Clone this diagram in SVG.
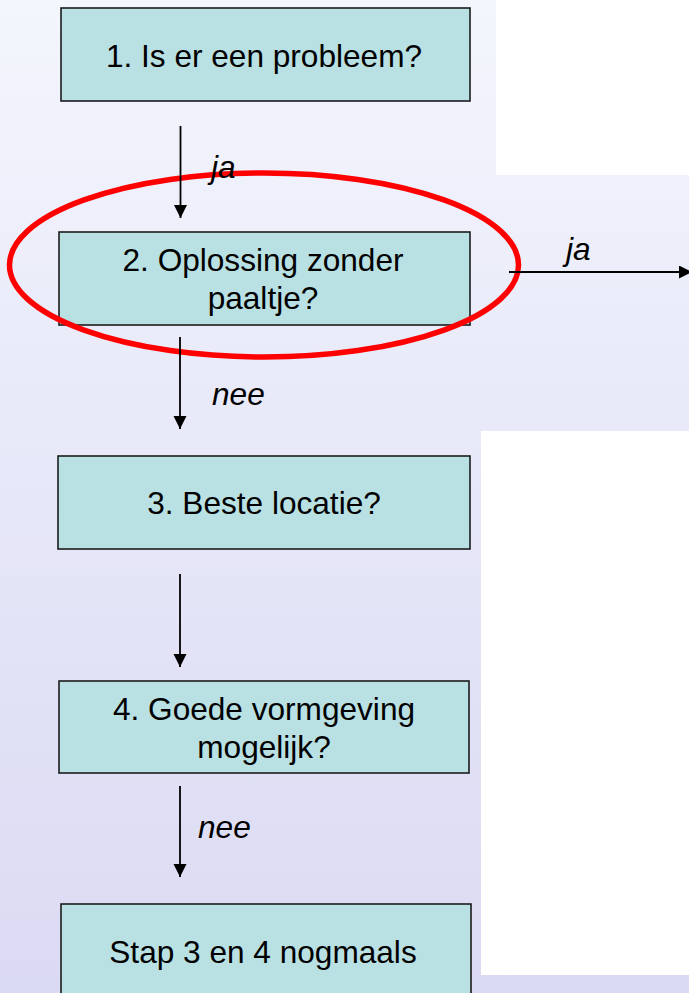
<svg xmlns="http://www.w3.org/2000/svg" width="689" height="993" viewBox="0 0 689 993">
  <defs>
    <linearGradient id="bg" x1="0" y1="0" x2="0" y2="1">
      <stop offset="0" stop-color="#f4f6fd"/>
      <stop offset="0.5" stop-color="#e6e7f8"/>
      <stop offset="1" stop-color="#dbdaf3"/>
    </linearGradient>
    <marker id="arrow" markerUnits="userSpaceOnUse" markerWidth="14" markerHeight="14" refX="13" refY="6.5" orient="auto">
      <path d="M0,0 L13,6.5 L0,13 Z" fill="#000"/>
    </marker>
    <style>
      .box { fill: #b9e0e3; stroke: #1c1c1c; stroke-width: 1.6; }
      .t { font-family: "Liberation Sans", Arial, sans-serif; font-size: 31.6px; fill: #000; text-anchor: middle; }
      .lbl { font-family: "Liberation Sans", Arial, sans-serif; font-size: 31.6px; font-style: italic; fill: #000; }
      .conn { stroke: #000; stroke-width: 1.8; fill: none; marker-end: url(#arrow); }
    </style>
  </defs>

  <!-- background -->
  <rect x="0" y="0" width="689" height="993" fill="url(#bg)"/>
  <rect x="496" y="0" width="193" height="175" fill="#ffffff"/>
  <rect x="481" y="431" width="208" height="544" fill="#ffffff"/>

  <g id="node1">
    <rect class="box" x="61" y="8" width="409" height="93"/>
    <text class="t" x="264" y="66.5">1. Is er een probleem?</text>
  </g>
  <g id="node2">
    <rect class="box" x="59" y="232" width="411" height="93"/>
    <text class="t" x="263" y="271">2. Oplossing zonder</text>
    <text class="t" x="263" y="309">paaltje?</text>
  </g>
  <g id="node3">
    <rect class="box" x="58" y="456" width="412" height="93"/>
    <text class="t" x="264" y="514">3. Beste locatie?</text>
  </g>
  <g id="node4">
    <rect class="box" x="59" y="681" width="410" height="92"/>
    <text class="t" x="264" y="720">4. Goede vormgeving</text>
    <text class="t" x="264" y="758">mogelijk?</text>
  </g>
  <g id="node5">
    <rect class="box" x="61" y="904" width="410" height="100"/>
    <text class="t" x="263" y="963">Stap 3 en 4 nogmaals</text>
  </g>

  <g id="highlight">
    <ellipse cx="264" cy="265" rx="254.5" ry="92" fill="none" stroke="#ff0000" stroke-width="5.5"/>
  </g>

  <g id="connectors">
    <line class="conn" x1="180.5" y1="126" x2="180.5" y2="218"/>
    <line class="conn" x1="180" y1="337" x2="180" y2="429"/>
    <line class="conn" x1="180" y1="574" x2="180" y2="667"/>
    <line class="conn" x1="180" y1="786" x2="180" y2="877"/>
    <line class="conn" x1="509" y1="272" x2="692" y2="272"/>
    <text class="lbl" x="211" y="178">ja</text>
    <text class="lbl" x="566" y="260">ja</text>
    <text class="lbl" x="212" y="405">nee</text>
    <text class="lbl" x="198" y="838">nee</text>
  </g>
</svg>
